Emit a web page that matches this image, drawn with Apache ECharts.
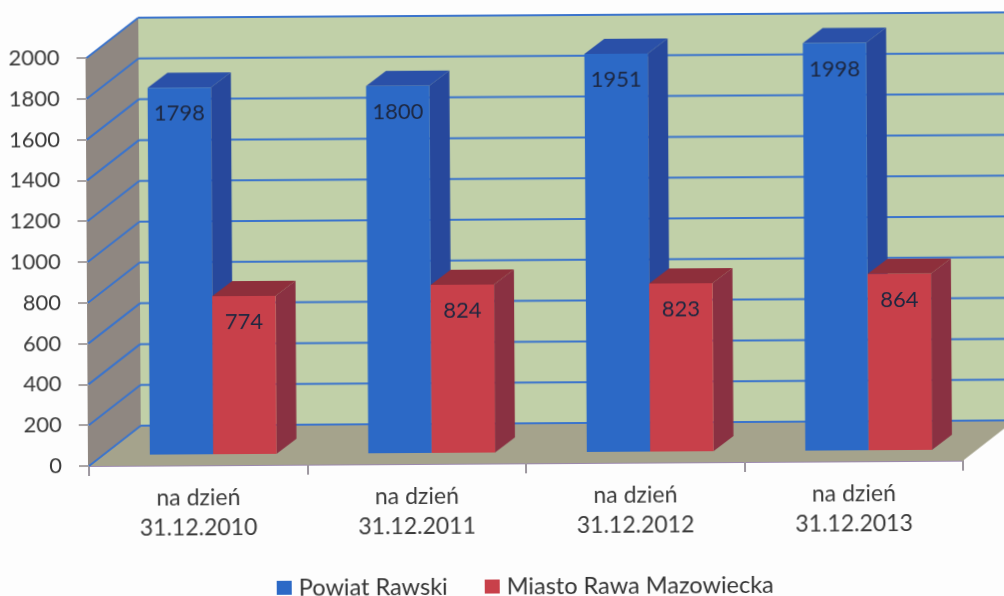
<!DOCTYPE html>
<html>
<head>
<meta charset="utf-8">
<script src="https://cdn.jsdelivr.net/npm/echarts@6/dist/echarts.min.js"></script>
<style>
html, body { margin: 0; padding: 0; background: #fdfdfd; overflow: hidden; width: 1004px; height: 596px; }
/* the original is a slightly skewed scan */
#main { width: 1050px; height: 620px; transform: rotate(-0.35deg); transform-origin: 89px 466px; }
</style>
</head>
<body>
<div id="main"></div>
<script>
var categories = ['na dzień\n31.12.2010', 'na dzień\n31.12.2011', 'na dzień\n31.12.2012', 'na dzień\n31.12.2013'];
var powiatValues = [1798, 1800, 1951, 1998];
var miastoValues = [774, 824, 823, 864];
var yTicks = [0, 200, 400, 600, 800, 1000, 1200, 1400, 1600, 1800, 2000];
var seriesNames = ['Powiat Rawski', 'Miasto Rawa Mazowiecka'];

var FONT = 'Lato';
var DEPTH_X = 52, DEPTH_Y = -40;   // wall depth
var OFF_X = 15, OFF_Y = -11;       // bars stand this far back from the front plane
var BAR_DX = 20, BAR_DY = -15;     // bar depth

function poly(points, fill) {
    return { type: 'polygon', shape: { points: points }, style: { fill: fill } };
}

function renderWalls(params, api) {
    var cs = params.coordSys;
    var x0 = cs.x, x1 = cs.x + cs.width;
    var y = api.coord([0, api.value(1)])[1];
    var children = [];
    if (params.dataIndex === 0) {
        var yb = cs.y + cs.height, yt = cs.y;
        children.push(poly([[x0 + DEPTH_X, yt + DEPTH_Y], [x1 + DEPTH_X, yt + DEPTH_Y], [x1 + DEPTH_X, yb + DEPTH_Y], [x0 + DEPTH_X, yb + DEPTH_Y]], '#c1d0a8'));
        children.push(poly([[x0, yt], [x0 + DEPTH_X, yt + DEPTH_Y], [x0 + DEPTH_X, yb + DEPTH_Y], [x0, yb]], '#8f8781'));
        children.push(poly([[x0, yb], [x0 + DEPTH_X, yb + DEPTH_Y], [x1 + DEPTH_X, yb + DEPTH_Y], [x1, yb]], '#a5a38c'));
    }
    var lineStyle = { stroke: '#3b74cc', lineWidth: 2 };
    children.push({ type: 'line', shape: { x1: x0, y1: y, x2: x0 + DEPTH_X, y2: y + DEPTH_Y }, style: lineStyle });
    children.push({ type: 'line', shape: { x1: x0 + DEPTH_X, y1: y + DEPTH_Y, x2: x1 + DEPTH_X, y2: y + DEPTH_Y }, style: lineStyle });
    return { type: 'group', children: children };
}

function barRenderer(side, front, top, dark) {
    return function (params, api) {
        var base = api.coord([api.value(0), 0]);
        var head = api.coord([api.value(0), api.value(1)]);
        var w = api.size([1, 0])[0] * 0.29;
        var l = base[0] + OFF_X + (side ? 0 : -w);
        var r = l + w;
        var b = base[1] + OFF_Y;
        var t = head[1] + OFF_Y;
        return {
            type: 'group',
            children: [
                poly([[r, b], [r + BAR_DX, b + BAR_DY], [r + BAR_DX, t + BAR_DY], [r, t]], dark),
                poly([[l, t], [l + BAR_DX, t + BAR_DY], [r + BAR_DX, t + BAR_DY], [r, t]], top),
                poly([[l, t], [r, t], [r, b], [l, b]], front),
                {
                    type: 'text',
                    z2: 10,
                    style: {
                        x: (l + r) / 2, y: t + 26, text: String(api.value(1)),
                        fill: '#1d2740', font: '22px ' + FONT, align: 'center', verticalAlign: 'middle'
                    }
                }
            ]
        };
    };
}

function pairs(values) {
    return values.map(function (v, i) { return [i, v]; });
}

var chart = echarts.init(document.getElementById('main'));
chart.setOption({
    animation: false,
    legend: {
        data: seriesNames,
        left: 276,
        top: 577,
        padding: 0,
        itemWidth: 15,
        itemHeight: 14,
        itemGap: 37,
        icon: 'rect',
        textStyle: { fontFamily: FONT, fontSize: 23.5, color: '#333', padding: [0, 0, 0, 2] }
    },
    grid: { left: 89, top: 58, width: 874, height: 408 },
    xAxis: {
        type: 'category',
        data: categories,
        axisLine: { show: true, lineStyle: { color: '#9b88ad', width: 2 } },
        axisTick: { show: true, length: 10, lineStyle: { color: '#9d979f', width: 2 } },
        axisLabel: { fontFamily: FONT, fontSize: 23, color: '#3a3a3a', lineHeight: 30, margin: 18, interval: 0 }
    },
    yAxis: {
        type: 'value',
        min: 0,
        max: 2000,
        interval: 200,
        splitLine: { show: false },
        axisLine: { show: true, lineStyle: { color: '#8f8781', width: 2 } },
        axisTick: { show: true, length: 10, lineStyle: { color: '#a9a4a4', width: 2 } },
        axisLabel: {
            fontFamily: FONT, fontSize: 22, color: '#3a3a3a', margin: 27,
            formatter: function (v) { return String(v); }
        }
    },
    series: [
        {
            type: 'custom', name: 'walls', silent: true, z: 1,
            renderItem: renderWalls,
            encode: { x: 0, y: 1 },
            data: pairs(yTicks).map(function (p) { return [0, p[1]]; })
        },
        {
            type: 'custom', name: seriesNames[0], z: 2,
            itemStyle: { color: '#2c69c6' },
            renderItem: barRenderer(false, '#2c69c6', '#2a50a8', '#27489c'),
            encode: { x: 0, y: 1 },
            data: pairs(powiatValues)
        },
        {
            type: 'custom', name: seriesNames[1], z: 3,
            itemStyle: { color: '#c8404a' },
            renderItem: barRenderer(true, '#c8404a', '#8e2f3b', '#8a3142'),
            encode: { x: 0, y: 1 },
            data: pairs(miastoValues)
        }
    ]
});
</script>
</body>
</html>
